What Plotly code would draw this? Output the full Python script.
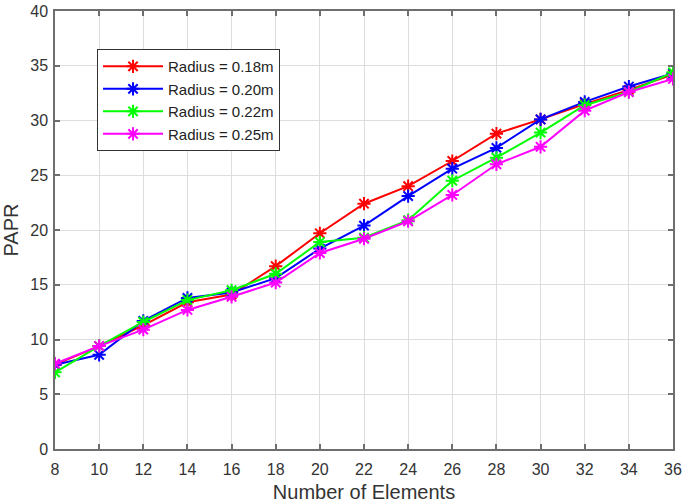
import plotly.graph_objects as go

elements = [8, 10, 12, 14, 16, 18, 20, 22, 24, 26, 28, 30, 32, 34, 36]
papr_018 = [7.7, 9.4, 11.3, 13.4, 14.1, 16.7, 19.7, 22.4, 24.0, 26.3, 28.8, 30.1, 31.5, 32.8, 34.2]
papr_020 = [7.7, 8.6, 11.7, 13.8, 14.3, 15.6, 18.3, 20.4, 23.1, 25.6, 27.5, 30.1, 31.7, 33.1, 34.3]
papr_022 = [7.0, 9.4, 11.6, 13.6, 14.5, 16.0, 18.9, 19.3, 20.9, 24.5, 26.6, 28.9, 31.4, 32.6, 34.4]
papr_025 = [7.8, 9.4, 10.9, 12.7, 13.9, 15.2, 17.9, 19.2, 20.8, 23.2, 26.0, 27.6, 30.9, 32.6, 33.8]

names = ["Radius = 0.18m", "Radius = 0.20m", "Radius = 0.22m", "Radius = 0.25m"]
colors = ["#ff0000", "#0000ff", "#00ff00", "#ff00ff"]
series = [papr_018, papr_020, papr_022, papr_025]

FONT = "Liberation Sans, Arial"

fig = go.Figure()
for name, color, ys in zip(names, colors, series):
    fig.add_trace(go.Scatter(
        x=elements, y=ys, name=name, mode="lines+markers",
        line=dict(color=color, width=2),
        marker=dict(symbol="asterisk-open", size=11, line=dict(color=color, width=2)),
    ))

axis_common = dict(
    showgrid=True, gridcolor="#dedede", gridwidth=1,
    showline=True, linecolor="#6e6e6e", linewidth=1.5, mirror="ticks",
    ticks="inside", ticklen=5, tickcolor="#6e6e6e", tickwidth=1.5,
    tickfont=dict(family=FONT, size=16, color="#333333"),
    zeroline=False, automargin=False,
)

fig.update_layout(
    width=685, height=504,
    margin=dict(l=55, r=12, t=11, b=55),
    paper_bgcolor="white", plot_bgcolor="white",
    xaxis=dict(range=[8, 36], tickvals=list(range(8, 37, 2)), ticklabelstandoff=5,
               title=dict(text="Number of Elements", standoff=8,
                          font=dict(family=FONT, size=20, color="#333333")),
               **axis_common),
    yaxis=dict(range=[0, 40], tickvals=list(range(0, 41, 5)), ticklabelstandoff=2,
               title=dict(text="PAPR", standoff=6,
                          font=dict(family=FONT, size=20, color="#333333")),
               **axis_common),
    legend=dict(x=0.068, y=0.913, xanchor="left", yanchor="top",
                bgcolor="white", bordercolor="#333333", borderwidth=1,
                font=dict(family=FONT, size=15, color="#222222"),
                tracegroupgap=0, itemwidth=60),
    showlegend=True,
)

fig.write_html("out.html", config={"displayModeBar": False},
               post_script="document.body.style.margin='0';")
